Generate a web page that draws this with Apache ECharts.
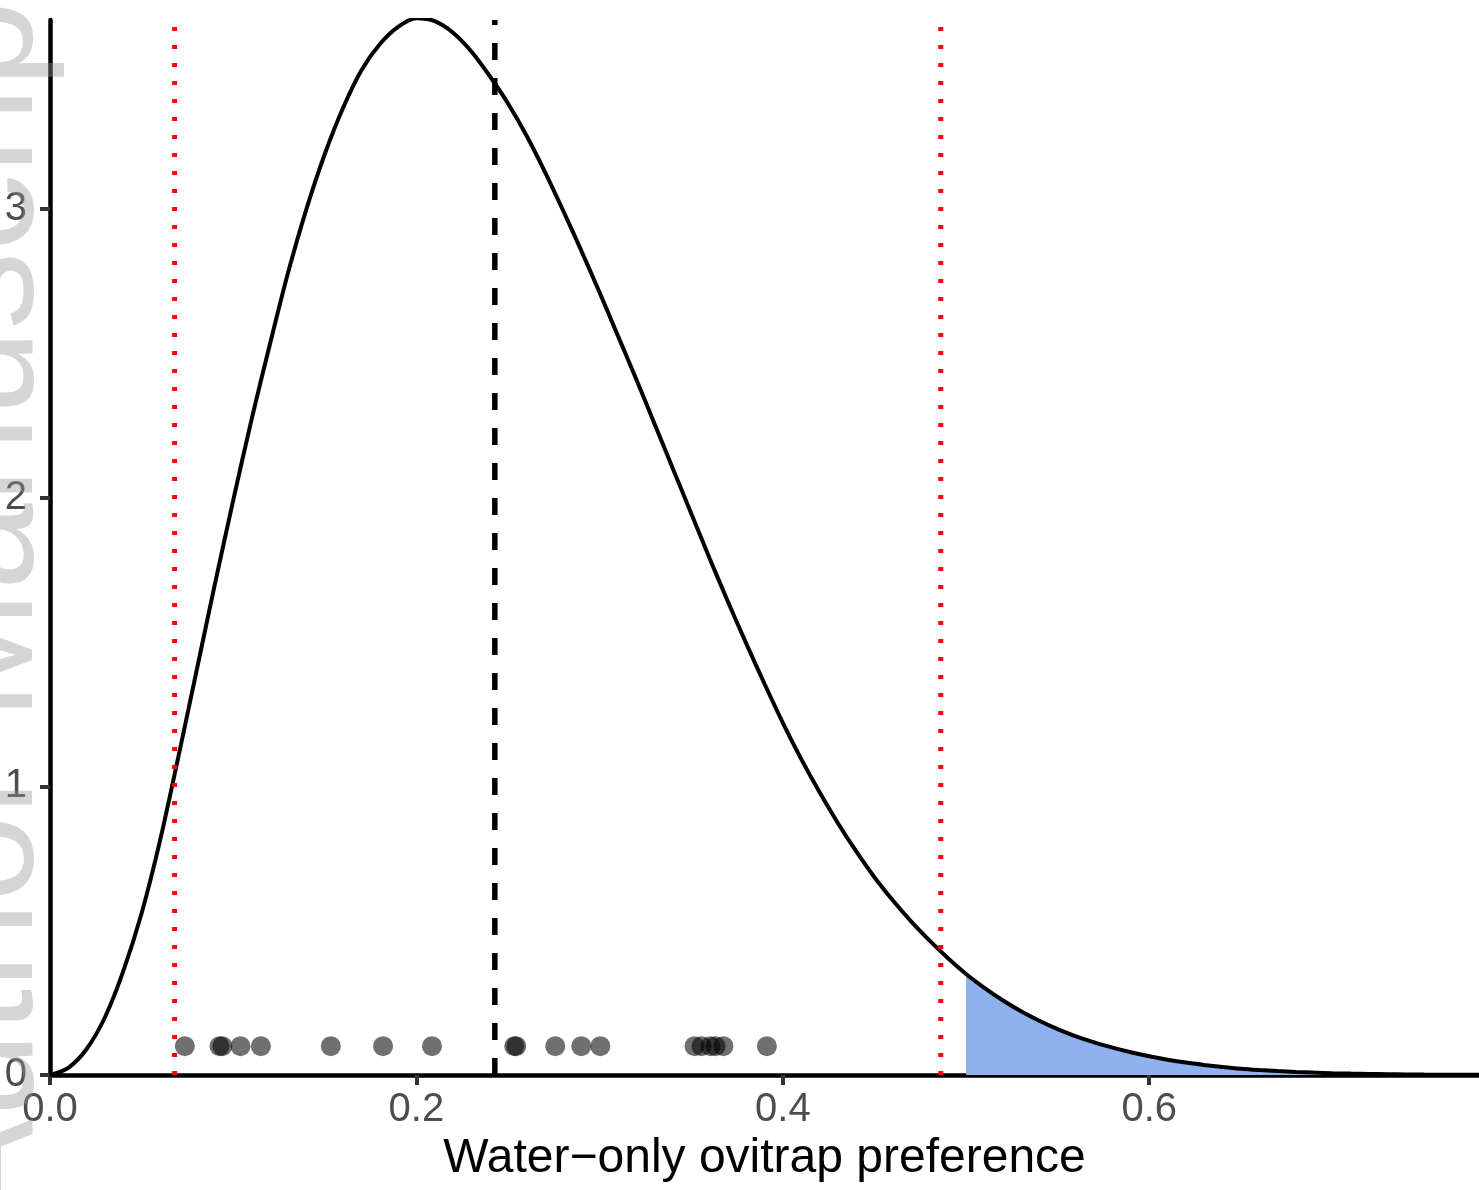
<!DOCTYPE html>
<html>
<head>
<meta charset="utf-8">
<script src="https://cdn.jsdelivr.net/npm/echarts@6/dist/echarts.min.js"></script>
<style>
html,body{margin:0;padding:0;background:#fff;}
#chart{width:1479px;height:1190px;}
</style>
</head>
<body>
<div id="chart"></div>
<script>
// Posterior density curve (step 0.01)
const curveX = [0.00,0.01,0.02,0.03,0.04,0.05,0.06,0.07,0.08,0.09,0.10,0.11,0.12,0.13,0.14,0.15,0.16,0.17,0.18,0.19,
                0.20,0.21,0.22,0.23,0.24,0.25,0.26,0.27,0.28,0.29,0.30,0.31,0.32,0.33,0.34,0.35,0.36,0.37,0.38,0.39,
                0.40,0.41,0.42,0.43,0.44,0.45,0.46,0.47,0.48,0.49,0.50,0.51,0.52,0.53,0.54,0.55,0.56,0.57,0.58,0.59,
                0.60,0.61,0.62,0.63,0.64,0.65,0.66,0.67,0.68,0.69,0.70,0.71,0.72,0.73,0.74,0.75,0.76,0.77,0.78];
const curveY = [0,0.025,0.09,0.20,0.36,0.56,0.81,1.10,1.40,1.70,1.99,2.27,2.53,2.78,3.00,3.19,3.35,3.48,3.57,3.63,
                3.66,3.65,3.61,3.545,3.46,3.365,3.255,3.13,2.995,2.855,2.71,2.56,2.41,2.255,2.10,1.945,1.79,1.64,1.495,1.355,
                1.22,1.095,0.98,0.873,0.775,0.685,0.605,0.532,0.466,0.405,0.350,0.302,0.259,0.221,0.188,0.159,0.134,0.113,0.095,0.079,
                0.065,0.053,0.043,0.035,0.028,0.022,0.0175,0.0137,0.0107,0.0083,0.0064,0.0049,0.0037,0.0028,0.0021,0.0015,0.0011,0.0008,0.0005];
// shaded tail starts here
const shadeFrom = 0.5;
// observed preferences (dots)
const obsX = [0.0736,0.0925,0.0941,0.1040,0.1151,0.1533,0.1818,0.2085,0.2534,0.2545,0.2758,0.2900,0.3004,
              0.3518,0.3556,0.3605,0.3633,0.3676,0.3913];
const obsY = 0.1;
// reference lines
const ciLines = [0.0680, 0.4862];
const meanLine = 0.2428;
// axes
const xTicks = [0, 0.2, 0.4, 0.6];
const yTicks = [0, 1, 2, 3];
const xMax = 0.78, yMax = 3.654;
const xTitle = 'Water\u2212only ovitrap preference';
const watermark = 'Author Manuscript';

const curve = curveX.map((x, i) => [x, curveY[i]]);
const tail = curve.filter(p => p[0] >= shadeFrom);
const FONT = 'Liberation Sans, Arial, sans-serif';

const series = [
  { type: 'line', data: tail, smooth: 0.3, symbol: 'none', lineStyle: { width: 0 },
    areaStyle: { color: '#8fb1ee', opacity: 1 }, z: 1 },
  { type: 'line', data: curve, smooth: 0.3, symbol: 'none',
    lineStyle: { color: '#000', width: 4 }, z: 2 }
];
ciLines.forEach(v => series.push({
  type: 'line', data: [[v, 0], [v, yMax]], symbol: 'none', z: 3,
  lineStyle: { color: '#ff0000', width: 5, type: [4, 14] }
}));
series.push({
  type: 'line', data: [[meanLine, 0], [meanLine, yMax]], symbol: 'none', z: 3,
  lineStyle: { color: '#000', width: 5.5, type: [17, 18] }
});
series.push({
  type: 'scatter', data: obsX.map(x => [x, obsY]), symbolSize: 20, z: 4,
  itemStyle: { color: 'rgba(0,0,0,0.7)' }
});

const chart = echarts.init(document.getElementById('chart'), null, { renderer: 'canvas' });
chart.setOption({
  animation: false,
  backgroundColor: '#fff',
  grid: { left: 50, right: 0, top: 20, bottom: 115, containLabel: false },
  xAxis: {
    type: 'value', min: 0, max: xMax,
    axisLine: { show: true, lineStyle: { color: '#000', width: 4.5 } },
    axisTick: { show: true, length: 10, customValues: xTicks, lineStyle: { color: '#333', width: 4 } },
    axisLabel: { customValues: xTicks, formatter: v => v.toFixed(1), fontSize: 40, color: '#4d4d4d',
                 margin: 15, fontFamily: FONT },
    splitLine: { show: false },
    name: xTitle, nameLocation: 'middle', nameGap: 60,
    nameTextStyle: { fontSize: 48, color: '#000', fontFamily: FONT }
  },
  yAxis: {
    type: 'value', min: 0, max: yMax,
    axisLine: { show: true, lineStyle: { color: '#000', width: 4.5 } },
    axisTick: { show: true, length: 10, customValues: yTicks, lineStyle: { color: '#333', width: 4 } },
    axisLabel: { customValues: yTicks, formatter: v => String(v), fontSize: 40, color: '#4d4d4d',
                 margin: 23, fontFamily: FONT },
    splitLine: { show: false }
  },
  graphic: [{
    type: 'text', x: -11, y: 1223, rotation: Math.PI / 2, z: 100, silent: true,
    style: { text: watermark, fontSize: 156, fontFamily: FONT, fill: 'rgba(150,150,150,0.4)',
             align: 'left', verticalAlign: 'middle' }
  }],
  series: series
});
</script>
</body>
</html>
